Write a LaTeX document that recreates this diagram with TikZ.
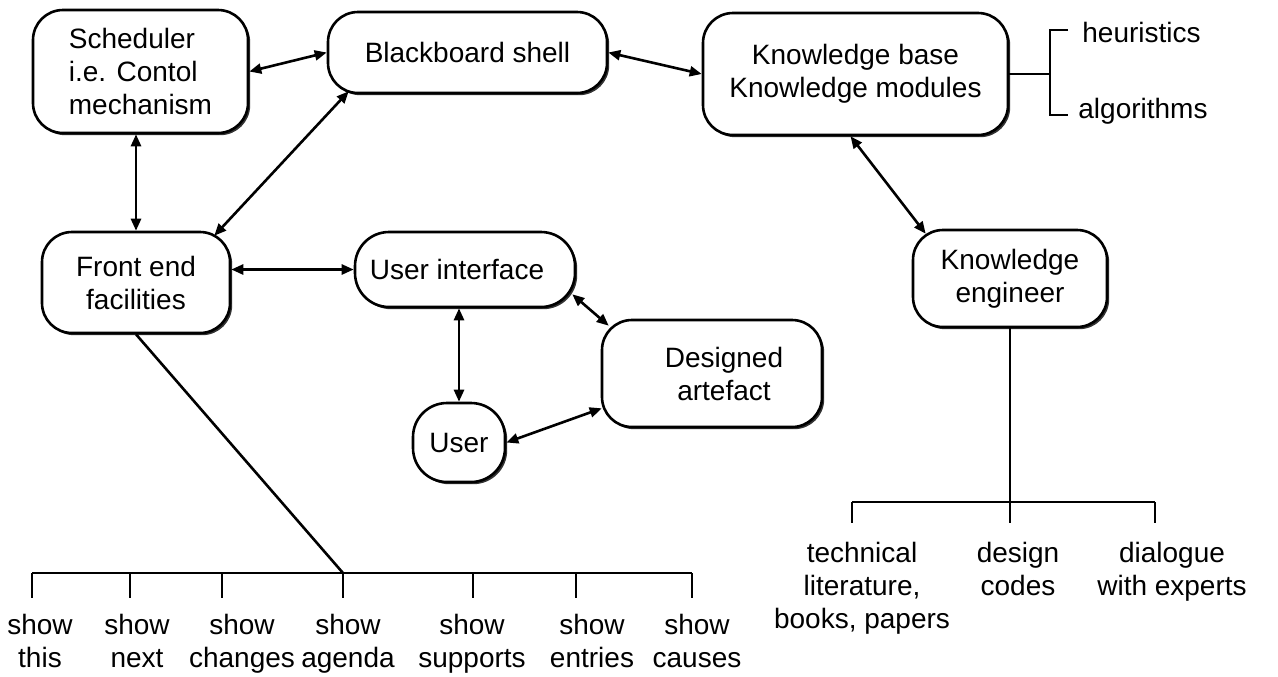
\documentclass[tikz,border=0pt]{standalone}
\usepackage{fontspec}
\setmainfont{Liberation Sans}
\usetikzlibrary{arrows.meta,shadows,calc}
\begin{document}
\begin{tikzpicture}[x=0.5pt,y=-0.5pt,
  every node/.style={font=\fontsize{14}{16.5}\selectfont},
  blk/.style={draw, line width=1.3pt, fill=white, rounded corners=15pt,
    align=center, inner sep=0pt,
    drop shadow={shadow xshift=1.1pt, shadow yshift=-1.1pt, opacity=1, fill=black!80}},
  link/.style={line width=1.3pt,
    {Triangle[length=6pt,width=5pt]}-{Triangle[length=6pt,width=5pt]}},
  tree/.style={line width=0.9pt},
  leaf/.style={align=center, anchor=north, inner sep=0pt}]
\useasboundingbox (0,0) rectangle (1278,676);

% main components
\node[blk, align=left, minimum width=107.5pt, minimum height=61.5pt] (sched) at (140.5,71.5) {Scheduler\\i.e. Contol\\mechanism};
\node[blk, minimum width=139.5pt, minimum height=40.5pt] (bb) at (467.5,52.5) {Blackboard shell};
\node[blk, minimum width=152.5pt, minimum height=61pt] (kb) at (855.5,74)
  {\raisebox{3pt}{\begin{tabular}{@{}c@{}}Knowledge base\\Knowledge modules\end{tabular}}};
\node[blk, minimum width=94pt, minimum height=50.5pt] (fe) at (136,282.5) {Front end\\facilities};
\node[blk, rounded corners=17pt, minimum width=110pt, minimum height=37.5pt] (ui) at (465,269.5) {User interface\hspace{8pt}};
\node[blk, minimum width=110pt, minimum height=53.5pt] (da) at (712,373.5) {\hspace{12pt}Designed\\\hspace{12pt}artefact};
\node[blk, rounded corners=17pt, minimum width=46pt, minimum height=39.5pt] (user) at (459,442.5) {User};
\node[blk, minimum width=97pt, minimum height=48.5pt] (ke) at (1010,278.5) {Knowledge\\engineer};

% two-way links
\draw[link] (sched.east) -- (bb.west);
\draw[link] (bb.east) -- (kb.west);
\draw[link] (fe.north) -- (fe.north |- sched.south);
\draw[link] ($(bb.south west)+(22,-3)$) -- ($(fe.north east)+(-17,5)$);
\draw[link] (ui.west -| fe.east) -- (ui.west);
\draw[link] (user.north) -- (user.north |- ui.south);
\draw[link] ($(ui.south east)+(-4,-14)$) -- ($(da.north west)+(8,7)$);
\draw[link] (user.east) -- ($(da.south west)+(1,-20)$);
\draw[link] ($(kb.south)+(-5,0)$) -- ($(ke.north west)+(14,5)$);

% knowledge kinds
\coordinate (fork) at (1050,30);
\coordinate (forkb) at (1050,115);
\draw[tree] (kb.east) -- (kb.east -| fork);
\draw[tree] ([xshift=9pt]fork) -- (fork) -- (forkb) -- ([xshift=9pt]forkb);
\node[anchor=base west, inner sep=0pt] (heur) at (1082,42) {heuristics};
\node[anchor=base west, inner sep=0pt] (algo) at (1078,118) {algorithms};

% front end commands
\foreach \x [count=\i] in {32,130,222,343,473,576,692} {
  \coordinate (st\i) at (\x,573);
  \draw[tree] (st\i) -- ++(0,25);
}
\draw[tree] (st1) -- (st7);
\draw[line width=1.3pt] (fe.south) -- (st4);
\node[leaf] (sh1) at (40,614) {show\\this};
\node[leaf] (sh2) at (137,614) {show\\next};
\node[leaf] (sh3) at (242,614) {show\\changes};
\node[leaf] (sh4) at (348,614) {show\\agenda};
\node[leaf] (sh5) at (472,614) {show\\supports};
\node[leaf] (sh6) at (592,614) {show\\entries};
\node[leaf] (sh7) at (697,614) {show\\causes};

% knowledge sources
\coordinate (kt1) at (852,502);
\coordinate (kt2) at (ke.south |- kt1);
\coordinate (kt3) at (1155,502);
\draw[tree] (ke.south) -- (kt2);
\draw[tree] (kt1) -- (kt3);
\foreach \k in {kt1,kt2,kt3} \draw[tree] (\k) -- ++(0,21);
\node[leaf] (src1) at (862,542) {technical\\literature,\\books, papers};
\node[leaf] (src2) at (1018,542) {design\\codes};
\node[leaf] (src3) at (1172,542) {dialogue\\with experts};
\end{tikzpicture}
\end{document}
